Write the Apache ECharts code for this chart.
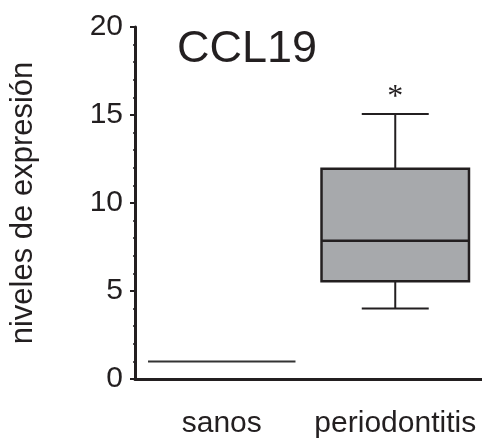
<!DOCTYPE html>
<html>
<head>
<meta charset="utf-8" />
<title>CCL19</title>
<script src="https://cdn.jsdelivr.net/npm/echarts@6/dist/echarts.min.js"></script>
<style type="text/css">
body, html {
	margin: 0;
	padding: 0;
	background: #fff;
}
#main {
	width: 482px;
	height: 439px;
}
</style>
</head>
<body>
	<div id="main"></div>
	<script>
		// datos
		const categories = ['sanos', 'periodontitis'];
		const whiskerLow = [1, 4.0];
		const q1 = [1, 5.55];
		const median = [1, 7.85];
		const q3 = [1, 11.95];
		const whiskerHigh = [1, 15.05];
		const marks = ['', '*'];
		const yTicks = [0, 5, 10, 15, 20];

		const ink = '#231f20';
		const font = 'Liberation Sans, Arial, sans-serif';

		let boxData = categories.map(function (c, i) {
			return [i, whiskerLow[i], q1[i], median[i], q3[i], whiskerHigh[i]];
		});

		function renderBox(params, api) {
			let idx = api.value(0);
			let band = api.size([1, 0])[0];
			let halfBox = band * 0.425;
			let halfCap = band * 0.193;
			let pLow = api.coord([idx, api.value(1)]);
			let pQ1 = api.coord([idx, api.value(2)]);
			let pMed = api.coord([idx, api.value(3)]);
			let pQ3 = api.coord([idx, api.value(4)]);
			let pHigh = api.coord([idx, api.value(5)]);
			let cx = pMed[0];
			let children = [];
			let flat = api.value(2) === api.value(4);
			if (flat) {
				// sin dispersion: solo una linea
				children.push({
					type: 'line',
					shape: { x1: cx - halfBox, y1: pMed[1], x2: cx + halfBox, y2: pMed[1] },
					style: { stroke: '#333', lineWidth: 2 }
				});
			} else {
				// bigotes
				children.push({
					type: 'line',
					shape: { x1: cx, y1: pHigh[1], x2: cx, y2: pQ3[1] },
					style: { stroke: ink, lineWidth: 2 }
				});
				children.push({
					type: 'line',
					shape: { x1: cx, y1: pLow[1], x2: cx, y2: pQ1[1] },
					style: { stroke: ink, lineWidth: 2 }
				});
				children.push({
					type: 'line',
					shape: { x1: cx - halfCap, y1: pHigh[1], x2: cx + halfCap, y2: pHigh[1] },
					style: { stroke: ink, lineWidth: 2 }
				});
				children.push({
					type: 'line',
					shape: { x1: cx - halfCap, y1: pLow[1], x2: cx + halfCap, y2: pLow[1] },
					style: { stroke: ink, lineWidth: 2 }
				});
				// caja
				children.push({
					type: 'rect',
					shape: { x: cx - halfBox, y: pQ3[1], width: halfBox * 2, height: pQ1[1] - pQ3[1] },
					style: { fill: '#a7a9ac', stroke: ink, lineWidth: 2.5 }
				});
				// mediana
				children.push({
					type: 'line',
					shape: { x1: cx - halfBox, y1: pMed[1], x2: cx + halfBox, y2: pMed[1] },
					style: { stroke: ink, lineWidth: 2.5 }
				});
			}
			if (marks[idx]) {
				children.push({
					type: 'text',
					style: {
						text: marks[idx],
						x: cx,
						y: pHigh[1] - 17,
						align: 'center',
						verticalAlign: 'middle',
						fontFamily: 'Liberation Serif, Times New Roman, serif',
						fontSize: 32,
						fill: ink
					}
				});
			}
			return { type: 'group', children: children };
		}

		let chart = echarts.init(document.getElementById('main'));
		chart.setOption({
			animation: false,
			title: {
				text: 'CCL19',
				left: 172,
				top: 22,
				textStyle: { fontFamily: font, fontSize: 45, fontWeight: 'normal', color: ink }
			},
			grid: { left: 133, right: -5, top: 27, bottom: 58 },
			xAxis: {
				type: 'category',
				data: categories,
				axisLine: { lineStyle: { color: ink, width: 3 } },
				axisTick: { alignWithLabel: true, length: 6, lineStyle: { color: ink, width: 1.5 } },
				axisLabel: { interval: 0, fontFamily: font, fontSize: 30, color: ink, margin: 30 },
				splitLine: { show: false }
			},
			yAxis: {
				type: 'value',
				min: yTicks[0],
				max: yTicks[yTicks.length - 1],
				interval: 5,
				name: 'niveles de expresión',
				nameLocation: 'middle',
				nameRotate: 90,
				nameGap: 96,
				nameTextStyle: { fontFamily: font, fontSize: 31, color: ink },
				axisLine: { show: true, lineStyle: { color: ink, width: 3 } },
				axisTick: { show: true, length: 5, lineStyle: { color: ink, width: 2 } },
				minorTick: { show: true, splitNumber: 5, length: 2, lineStyle: { color: ink, width: 1.5 } },
				axisLabel: { fontFamily: font, fontSize: 30, color: ink, margin: 12 },
				splitLine: { show: false }
			},
			series: [
				{
					type: 'custom',
					renderItem: renderBox,
					encode: { x: 0, y: [1, 2, 3, 4, 5] },
					data: boxData,
					clip: false
				}
			]
		});
	</script>
</body>
</html>
